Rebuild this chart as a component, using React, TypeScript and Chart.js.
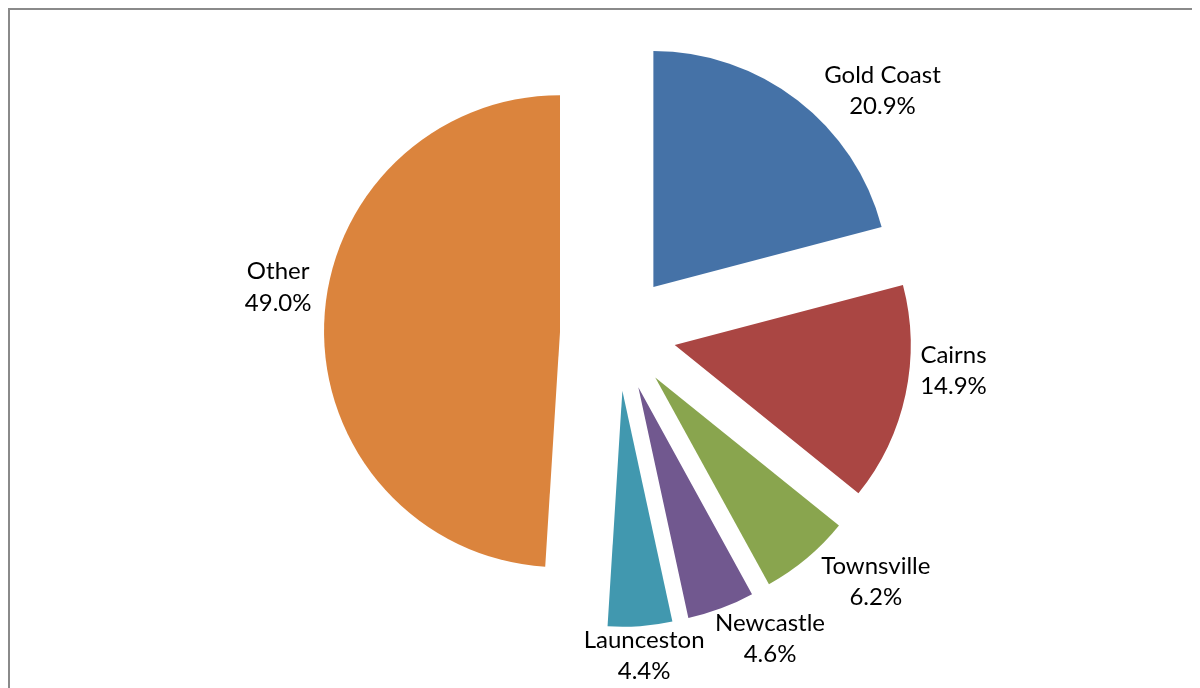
import React, { useEffect, useRef } from "react";
import { Chart, registerables } from "chart.js";

Chart.register(...registerables);

const categories = ["Gold Coast", "Cairns", "Townsville", "Newcastle", "Launceston", "Other"];
const shares = [20.9, 14.9, 6.2, 4.6, 4.4, 49.0];
const colors = ["#4572A7", "#AA4643", "#89A54E", "#71588F", "#4198AF", "#DB843D"];

// label placement nudges (pixels) from each slice's outer mid point
const labelNudge: [number, number][] = [
  [85, -2],
  [48, -16],
  [69, 31],
  [49, 38],
  [4, 37],
  [-46, -29],
];

const EXPLODE = 58;
const RADIUS = 236;
const FONT = '24px Lato, "Open Sans", sans-serif';

const explodePlugin = {
  id: "explode",
  beforeDatasetDraw(chart: any, args: any) {
    const ctx = chart.ctx;
    args.meta.data.forEach((arc: any) => {
      const mid = (arc.startAngle + arc.endAngle) / 2;
      ctx.save();
      ctx.translate(Math.cos(mid) * EXPLODE, Math.sin(mid) * EXPLODE);
      arc.draw(ctx);
      ctx.restore();
    });
    return false;
  },
};

const labelPlugin = {
  id: "sliceLabels",
  afterDatasetsDraw(chart: any) {
    const ctx = chart.ctx;
    const meta = chart.getDatasetMeta(0);
    ctx.save();
    ctx.font = FONT;
    ctx.fillStyle = "#000000";
    ctx.textAlign = "center";
    ctx.textBaseline = "alphabetic";
    meta.data.forEach((arc: any, i: number) => {
      const mid = (arc.startAngle + arc.endAngle) / 2;
      const r = arc.outerRadius + EXPLODE;
      const x = arc.x + Math.cos(mid) * r + labelNudge[i][0];
      const y = arc.y + Math.sin(mid) * r + labelNudge[i][1];
      ctx.fillText(categories[i], x, y - 15.5);
      ctx.fillText(shares[i].toFixed(1) + "%", x, y + 16);
    });
    ctx.restore();
  },
};

export default function App() {
  const canvasRef = useRef<HTMLCanvasElement | null>(null);

  useEffect(() => {
    if (!canvasRef.current) return;
    const chart = new Chart(canvasRef.current, {
      type: "pie",
      data: {
        labels: categories,
        datasets: [
          {
            data: shares,
            backgroundColor: colors,
            borderWidth: 0,
            radius: RADIUS,
          } as any,
        ],
      },
      options: {
        responsive: false,
        animation: false,
        events: [],
        layout: { padding: { left: 26, right: 0, top: 0, bottom: 32 } },
        plugins: {
          legend: { display: false },
          tooltip: { enabled: false },
          title: { display: false },
        },
      },
      plugins: [explodePlugin, labelPlugin],
    });
    return () => chart.destroy();
  }, []);

  return (
    <div
      style={{
        position: "relative",
        width: 1192,
        height: 680,
        boxSizing: "border-box",
        borderTop: "2px solid #8a8a8a",
        borderLeft: "2px solid #8a8a8a",
        background: "#fff",
        overflow: "hidden",
      }}
    >
      <canvas
        ref={canvasRef}
        width={1190}
        height={678}
        style={{ position: "absolute", left: 0, top: 0, width: 1190, height: 678 }}
      />
    </div>
  );
}
